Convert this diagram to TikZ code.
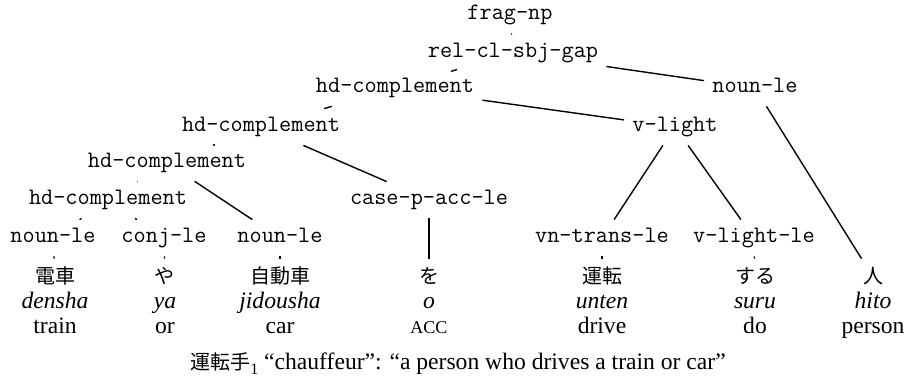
\documentclass[tikz,border=0pt]{standalone}
\usepackage{fontspec}
\setmainfont{Liberation Serif}
\newfontfamily\jfont{Noto Sans CJK JP}
\begin{document}
\begin{tikzpicture}[x=0.5pt,y=-0.5pt,
  tn/.style={font=\ttfamily\fontsize{11.8}{13}\selectfont, inner xsep=4pt, inner ysep=0pt,
             text height=7.5pt, text depth=2.5pt, minimum height=18pt},
  jw/.style={font=\jfont\fontsize{10}{12}\selectfont, inner xsep=3pt, inner ysep=0pt,
             text height=8.5pt, text depth=1.5pt, minimum height=18pt},
  rw/.style={font=\itshape\fontsize{11.8}{13}\selectfont, inner sep=0pt, text height=8pt, text depth=2.5pt},
  gl/.style={font=\fontsize{11.8}{13}\selectfont, inner sep=0pt, text height=8pt, text depth=2.5pt},
  ed/.style={line width=0.7pt}]
\useasboundingbox (0,0) rectangle (907,379);
% tree nodes
\node[tn] (fnp) at (510,15) {frag-np};
\node[tn] (rel) at (513,53) {rel-cl-sbj-gap};
\node[tn] (hc3) at (395,88) {hd-complement};
\node[tn] (nr)  at (755,88) {noun-le};
\node[tn] (hc4) at (261,127) {hd-complement};
\node[tn] (vl)  at (675,127) {v-light};
\node[tn] (hc5) at (167,163) {hd-complement};
\node[tn] (hc6) at (108,200) {hd-complement};
\node[tn] (cp)  at (429,200) {case-p-acc-le};
\node[tn] (n1)  at (53,238) {noun-le};
\node[tn] (cj)  at (164,238) {conj-le};
\node[tn] (n2)  at (280,238) {noun-le};
\node[tn] (vt)  at (602,238) {vn-trans-le};
\node[tn] (vll) at (754,238) {v-light-le};
% words
\node[jw] (w1) at (55,277) {電車};
\node[jw] (w2) at (165,277) {や};
\node[jw] (w3) at (280,277) {自動車};
\node[jw] (w4) at (429,277) {を};
\node[jw] (w5) at (602,277) {運転};
\node[jw] (w6) at (755,277) {する};
\node[jw] (w7) at (873,277) {人};
% romanization
\node[rw] (r1) at (55,303) {densha};
\node[rw] (r2) at (165,303) {ya};
\node[rw] (r3) at (280,303) {jidousha};
\node[rw] (r4) at (429,303) {o};
\node[rw] (r5) at (602,303) {unten};
\node[rw] (r6) at (755,303) {suru};
\node[rw] (r7) at (873,303) {hito};
% glosses
\node[gl] (g1) at (55,328) {train};
\node[gl] (g2) at (165,328) {or};
\node[gl] (g3) at (280,328) {car};
\node[gl] (g4) at (429,328) {{\fontsize{9}{10}\selectfont ACC}};
\node[gl] (g5) at (602,328) {drive};
\node[gl] (g6) at (755,328) {do};
\node[gl] (g7) at (873,328) {person};
% caption
\node[gl] (cap) at (458,364) {{\jfont\fontsize{10}{12}\selectfont 運転手}\raisebox{-0.5ex}{\fontsize{8}{9}\selectfont 1} “chauffeur”: “a person who drives a train or car”};
% edges
\draw[ed] (fnp) -- (rel);
\draw[ed] (rel) -- (hc3);
\draw[ed] (rel) -- (nr);
\draw[ed] (hc3) -- (hc4);
\draw[ed] (hc3) -- (vl);
\draw[ed] (hc4) -- (hc5);
\draw[ed] (hc4) -- (cp);
\draw[ed] (hc5) -- (hc6);
\draw[ed] (hc5) -- (n2);
\draw[ed] (hc6) -- (n1);
\draw[ed] (hc6) -- (cj);
\draw[ed] (cp) -- (w4);
\draw[ed] (vl) -- (vt);
\draw[ed] (vl) -- (vll);
\draw[ed] (nr) -- (w7);
\draw[ed] (n1) -- (w1);
\draw[ed] (cj) -- (w2);
\draw[ed] (n2) -- (w3);
\draw[ed] (vt) -- (w5);
\draw[ed] (vll) -- (w6);
\end{tikzpicture}
\end{document}
